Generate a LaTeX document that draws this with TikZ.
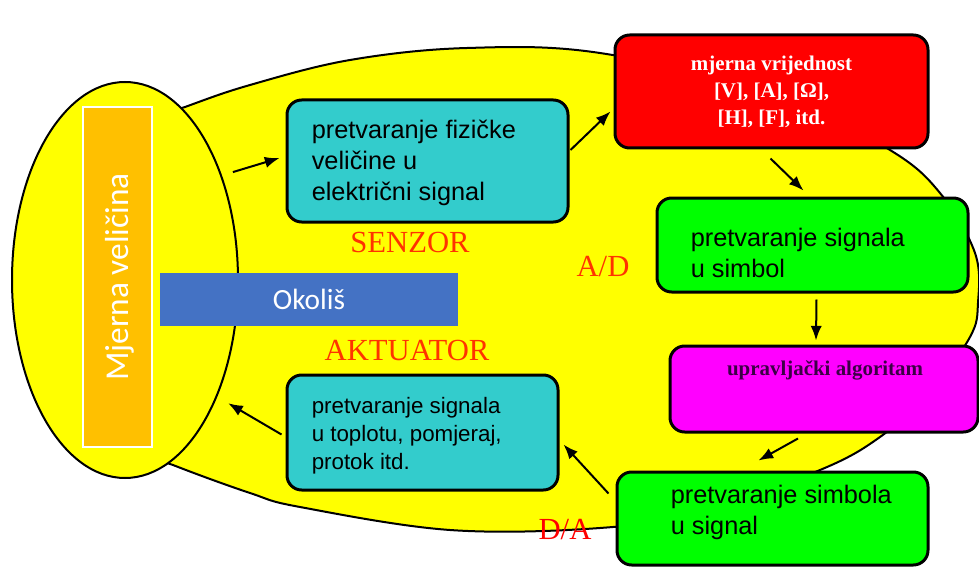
\documentclass[tikz,border=0pt]{standalone}
\usepackage{fontspec}
\setmainfont{Liberation Serif}
\newfontfamily\arialf{Liberation Sans}
\newfontfamily\calib{Carlito}
\usetikzlibrary{shapes.geometric,arrows.meta,calc}
\definecolor{cyanbox}{HTML}{33CCCC}
\definecolor{orangebox}{HTML}{FFC000}
\definecolor{bluebox}{HTML}{4472C4}
\definecolor{lblred}{HTML}{FF3300}
\definecolor{darkpurple}{HTML}{3C0046}
\definecolor{ylw}{HTML}{FFFF00}
\definecolor{grn}{HTML}{00FF00}
\definecolor{mgt}{HTML}{FF00FF}
\begin{document}
\begin{tikzpicture}[x=0.75pt,y=-0.75pt,
  box/.style={draw=black, line width=2.25pt, rounded corners=11pt, inner sep=0pt},
  arr/.style={-{Latex[length=11pt,width=8.5pt]}, line width=1.5pt},
  lbl/.style={font=\fontsize{23}{27}\selectfont, text=lblred, inner sep=0pt},
  btext/.style={font=\arialf\fontsize{19}{23.25}\selectfont, align=left, anchor=west, inner sep=0pt},
  stext/.style={font=\bfseries\fontsize{15.7}{20.25}\selectfont, align=center, inner sep=0pt}]
\useasboundingbox (0,0) rectangle (979,567);
\fill[white] (0,0) rectangle (979,567);
% big yellow shape
\draw[line width=1.5pt, fill=ylw] plot[smooth cycle, tension=0.6] coordinates {
  (120,132) (185,107) (250,85) (350,60) (467,48) (600,53) (780,95) (890,150)
  (940,193) (975,253) (978,303) (970,337) (930,392) (880,437) (820,470)
  (700,512) (600,528) (450,530) (300,507) (250,493) (173,465) (110,438) (90,290)};
% left ellipse
\node[ellipse, draw=black, line width=1.5pt, fill=ylw, minimum width=169.5pt, minimum height=297pt, inner sep=0pt] (mv) at (125,280) {};
\node[draw=white, line width=1.5pt, fill=orangebox, minimum width=51.75pt, minimum height=255pt, inner sep=0pt] (mvr) at (117.5,277) {};
\node[rotate=90, text=white, font=\calib\fontsize{25}{29}\selectfont, inner sep=0pt] (mvt) at (120,277) {Mjerna veličina};
% environment
\node[fill=bluebox, minimum width=223.5pt, minimum height=39.75pt, inner sep=0pt, text=white, font=\calib\fontsize{22}{26}\selectfont] (ok) at (309,299.5) {Okoliš};
% boxes
\node[box, fill=cyanbox, minimum width=210.75pt, minimum height=91.5pt] (s1) at (427.5,161) {};
\node[btext] (s1t) at ($(s1.west)+(26,1.5)$) {pretvaranje fizičke\\veličine u\\električni signal};
\node[box, fill=cyanbox, minimum width=203.25pt, minimum height=86.25pt] (c2) at (422.5,432.5) {};
\node[btext, font=\arialf\fontsize{16.75}{21}\selectfont] (c2t) at ($(c2.west)+(26,3.5)$) {pretvaranje signala\\u toplotu, pomjeraj,\\protok itd.};
\node[box, fill=red, minimum width=234.75pt, minimum height=84.75pt, stext, text=white] (rb) at (771.5,91.5) {mjerna vrijednost\\{}[V], [A], [Ω],\\{}[H], [F], itd.};
\node[box, fill=grn, minimum width=233.25pt, minimum height=70.5pt] (g1) at (812.5,245) {};
\node[btext] (g1t) at ($(g1.west)+(35,7.5)$) {pretvaranje signala\\u simbol};
\node[box, fill=mgt, minimum width=231pt, minimum height=64.5pt] (mg) at (824,389) {};
\node[stext, text=darkpurple] (mgt) at ($(mg.north)+(1,26)$) {upravljački algoritam};
\node[box, fill=grn, minimum width=233.25pt, minimum height=69.75pt] (g2) at (772.5,518.5) {};
\node[btext] (g2t) at ($(g2.west)+(55,-6.5)$) {pretvaranje simbola\\u signal};
% labels
\node[lbl] (senz) at (410,242) {SENZOR};
\node[lbl] (ad) at (603,267) {A/D};
\node[lbl] (akt) at (407,350) {AKTUATOR};
\node[lbl, text=red] (da) at (565,530) {D/A};
% arrows
\draw[arr] ($(mv.45)+(9,-9)$) -- ($(s1.west)+(-6,-3)$);
\draw[arr] ($(s1.east)+(1,-11)$) -- ($(rb.west)+(-3,20)$);
\draw[arr] ($(rb.south)+(-1,9)$) -- ($(g1.north)+(-9,-6)$);
\draw[arr] ($(g1.south)+(4,6)$) -- ($(mg.north)+(-8,-4)$);
\draw[arr] ($(mg.south)+(-26,5)$) -- ($(g2.north)+(-14,-10)$);
\draw[arr] ($(g2.west)+(-7,-25)$) -- ($(c2.east)+(4,12)$);
\draw[arr] ($(c2.west)+(-4,2)$) -- ($(mv.-50)+(9,11)$);
\end{tikzpicture}
\end{document}
